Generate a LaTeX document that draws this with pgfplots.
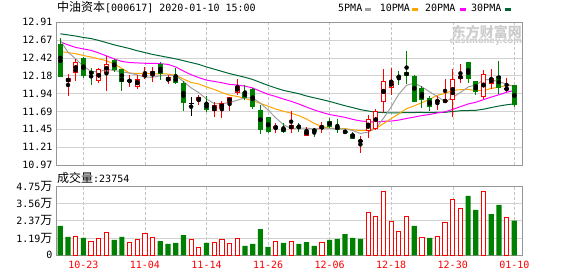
\documentclass[border=0pt]{standalone}
\usepackage{pgfplots}
\pgfplotsset{compat=1.18}
\usepackage{pgfplotstable}
\usepackage{fontspec}
\setmainfont{DejaVu Sans Mono}
\newfontfamily\cjk{Noto Sans CJK SC}
\newfontfamily\wmfont{DejaVu Sans}
\definecolor{kred}{RGB}{255,0,0}
\definecolor{kgreen}{RGB}{0,128,0}
\definecolor{maA}{RGB}{160,160,160}
\definecolor{maB}{RGB}{255,165,0}
\definecolor{maC}{RGB}{255,0,255}
\definecolor{maD}{RGB}{0,102,51}
\definecolor{framec}{RGB}{150,150,150}
\definecolor{gridc}{RGB}{210,210,210}
\definecolor{vgridc}{RGB}{195,195,195}
\definecolor{wmc}{RGB}{205,205,205}
\newcommand\wan{{\cjk\fontsize{12}{14}\selectfont 万}}

% candles: x open high low close
\pgfplotstableread{
x o h l c
1 12.100 12.205 11.906 12.146
2 12.223 12.403 12.109 12.363
5 12.114 12.290 12.087 12.259
6 12.222 12.449 11.978 12.340
9 12.100 12.190 12.033 12.123
10 12.033 12.190 12.000 12.132
11 12.170 12.300 12.130 12.200
12 12.191 12.295 12.100 12.245
14 12.114 12.190 12.069 12.159
18 11.843 11.920 11.784 11.888
20 11.716 11.829 11.626 11.784
21 11.739 11.843 11.612 11.806
22 11.820 11.890 11.707 11.888
23 11.951 12.132 11.920 12.040
28 11.463 11.535 11.409 11.499
30 11.463 11.707 11.409 11.508
32 11.377 11.490 11.377 11.431
34 11.463 11.558 11.409 11.499
39 11.287 11.363 11.137 11.300
40 11.440 11.648 11.332 11.590
41 11.470 11.730 11.440 11.700
42 11.829 12.268 11.680 12.100
43 12.019 12.281 11.920 12.109
49 11.829 11.900 11.720 11.843
50 11.830 12.130 11.820 11.847
51 11.860 12.268 11.626 12.132
52 12.146 12.340 12.087 12.177
55 11.900 12.260 11.860 12.204
56 12.080 12.270 12.000 12.140
58 11.996 12.146 11.965 12.010
}\redK
\pgfplotstableread{
x o h l c
0 12.598 12.690 12.159 12.168
3 12.420 12.430 12.146 12.190
4 12.236 12.285 12.060 12.205
7 12.394 12.410 12.236 12.272
8 12.268 12.275 11.978 12.100
13 12.336 12.363 12.123 12.213
15 12.168 12.280 12.069 12.087
16 12.078 12.114 11.707 11.815
19 11.806 11.910 11.693 11.725
24 11.951 12.055 11.852 11.888
25 12.000 12.010 11.725 11.770
26 11.716 11.784 11.386 11.458
27 11.612 11.612 11.409 11.431
29 11.463 11.535 11.400 11.431
31 11.499 11.544 11.422 11.485
33 11.450 11.470 11.350 11.430
35 11.558 11.603 11.467 11.499
36 11.499 11.590 11.409 11.445
37 11.422 11.454 11.386 11.413
38 11.386 11.422 11.323 11.332
44 12.177 12.240 12.055 12.159
45 12.223 12.520 12.064 12.190
46 12.177 12.190 11.830 11.838
47 12.010 12.040 11.750 11.852
48 11.874 11.906 11.700 11.770
53 12.363 12.363 12.078 12.146
54 12.100 12.109 11.915 11.974
57 12.168 12.385 11.930 12.020
59 12.046 12.060 11.760 11.784
}\greenK
\pgfplotstableread{
x o h l c
17 11.806 11.888 11.635 11.806
}\blackK

% moving averages: x ma5 ma10 ma20 ma30
\pgfplotstableread{
x a b d e
0 12.660 12.510 12.640 12.750
1 12.500 12.495 12.600 12.735
2 12.410 12.480 12.565 12.720
3 12.310 12.455 12.545 12.700
4 12.240 12.435 12.525 12.685
5 12.232 12.410 12.490 12.660
6 12.270 12.385 12.450 12.630
7 12.252 12.340 12.410 12.600
8 12.234 12.280 12.375 12.575
9 12.218 12.216 12.360 12.550
10 12.192 12.212 12.355 12.520
11 12.164 12.216 12.350 12.495
12 12.159 12.206 12.350 12.470
13 12.181 12.208 12.345 12.450
14 12.189 12.204 12.335 12.430
15 12.181 12.187 12.300 12.410
16 12.104 12.136 12.245 12.385
17 12.016 12.090 12.195 12.360
18 11.952 12.069 12.155 12.335
19 11.865 12.029 12.122 12.300
20 11.804 11.995 12.104 12.270
21 11.802 11.953 12.086 12.240
22 11.818 11.917 12.063 12.210
23 11.849 11.900 12.055 12.185
24 11.881 11.873 12.040 12.160
25 11.878 11.841 12.015 12.130
26 11.809 11.806 11.971 12.090
27 11.717 11.768 11.929 12.050
28 11.609 11.729 11.899 12.015
29 11.518 11.700 11.865 11.982
30 11.465 11.672 11.834 11.960
31 11.471 11.640 11.797 11.937
32 11.471 11.594 11.756 11.906
33 11.457 11.533 11.717 11.881
34 11.471 11.495 11.684 11.858
35 11.469 11.467 11.654 11.832
36 11.461 11.466 11.636 11.803
37 11.457 11.464 11.616 11.774
38 11.438 11.448 11.589 11.749
39 11.398 11.435 11.568 11.721
40 11.416 11.443 11.558 11.703
41 11.467 11.464 11.552 11.686
42 11.604 11.531 11.563 11.681
43 11.760 11.599 11.566 11.677
44 11.932 11.665 11.580 11.678
45 12.052 11.734 11.601 11.681
46 12.079 11.773 11.620 11.682
47 12.030 11.817 11.641 11.683
48 11.962 11.861 11.655 11.679
49 11.899 11.916 11.676 11.684
50 11.830 11.941 11.692 11.685
51 11.889 11.984 11.724 11.696
52 11.954 11.992 11.762 11.706
53 12.029 11.996 11.798 11.709
54 12.055 11.977 11.821 11.712
55 12.127 11.979 11.857 11.727
56 12.128 12.009 11.891 11.749
57 12.097 12.025 11.923 11.770
58 12.070 12.050 11.957 11.787
59 12.032 12.044 11.981 11.799
}\maT

% volume (hands)
\pgfplotstableread{
x v
2 13000
4 9800
5 11600
6 15800
9 8900
10 10500
11 15100
12 12300
17 11000
18 5500
20 8900
21 10500
22 8200
23 11600
28 9600
30 9600
34 8900
40 29500
41 26700
42 43900
43 23300
44 16400
45 26700
47 12300
49 13000
50 22600
51 38400
52 32200
55 43900
58 26000
}\redV
\pgfplotstableread{
x v
0 20100
1 12600
3 11900
7 10500
8 12600
13 9800
14 7800
15 8500
16 13900
19 8500
24 6400
25 7800
26 18000
27 5700
29 8500
31 7800
32 9100
33 6400
35 10500
36 11200
37 14600
38 11900
39 11200
46 20100
48 11900
53 40700
54 31100
56 28300
57 34500
59 23754
}\greenV

\pgfplotsset{
  kbase/.style={
    scale only axis, width=466pt, anchor=south west,
    xmin=-0.56, xmax=60,
    xtick={3,11,...,59},
    major tick length=0pt,
    axis line style={framec},
    xmajorgrids, ymajorgrids,
    y grid style={gridc},
    x grid style={vgridc, dash pattern=on 3pt off 2pt},
    tick label style={font=\fontsize{10}{12}\selectfont, text=black},
    scaled ticks=false,
  },
  wick/.style={only marks, mark=none, forget plot,
    error bars/.cd, y dir=both, y explicit, error mark=none,
    error bar style={draw=#1, line width=1pt, solid}},
  body/.style={only marks, mark=none, forget plot,
    error bars/.cd, y dir=both, y explicit, error mark=none,
    error bar style={draw=#1, line width=5pt, solid}},
  inner/.style={only marks, mark=none, forget plot,
    error bars/.cd, y dir=both, y explicit, error mark=none,
    error bar style={draw=white, line width=3pt, solid}},
}

\begin{document}
\begin{tikzpicture}
\path[use as bounding box] (0,0) rectangle (578pt,276pt);

% watermark
\node[anchor=north east, inner sep=0, text=wmc, font=\cjk\fontsize{14}{16}\selectfont\bfseries] at (522pt,251pt) {东方财富网};
\node[anchor=north east, inner sep=0, text=wmc, font=\wmfont\fontsize{8.2}{9}\selectfont\bfseries] at (522pt,238pt) {eastmoney.com};

% price panel
\begin{axis}[kbase, at={(56pt,111pt)}, height=143pt,
  ymin=10.97, ymax=12.91,
  ytick={10.97,11.2125,11.455,11.6975,11.94,12.1825,12.425,12.6675,12.91},
  yticklabels={10.97,11.21,11.45,11.69,11.94,12.18,12.42,12.67,12.91},
  xticklabels={},
]
% moving averages
\addplot[maD, line width=1pt, mark=none] table[x=x, y=e] {\maT};
\addplot[maC, line width=1pt, mark=none] table[x=x, y=d] {\maT};
\addplot[maB, line width=1pt, mark=none] table[x=x, y=b] {\maT};
\addplot[maA, line width=1pt, mark=none] table[x=x, y=a] {\maT};
% wicks
\addplot[wick=kgreen] table[x=x, y expr={(\thisrow{h}+\thisrow{l})/2}, y error expr={(\thisrow{h}-\thisrow{l})/2}] {\greenK};
\addplot[wick=kred] table[x=x, y expr={(\thisrow{h}+\thisrow{l})/2}, y error expr={(\thisrow{h}-\thisrow{l})/2}] {\redK};
\addplot[wick=black] table[x=x, y expr={(\thisrow{h}+\thisrow{l})/2}, y error expr={(\thisrow{h}-\thisrow{l})/2}] {\blackK};
% bodies
\addplot[body=kgreen] table[x=x, y expr={(\thisrow{o}+\thisrow{c})/2}, y error expr={abs(\thisrow{o}-\thisrow{c})/2+0.0068}] {\greenK};
\addplot[body=kred] table[x=x, y expr={(\thisrow{o}+\thisrow{c})/2}, y error expr={abs(\thisrow{o}-\thisrow{c})/2+0.0068}] {\redK};
\addplot[inner] table[x=x, y expr={(\thisrow{o}+\thisrow{c})/2}, y error expr={max(abs(\thisrow{o}-\thisrow{c})/2-0.0068,0)}] {\redK};
\addplot[only marks, mark=-, mark size=2.5pt, mark options={black, line width=1pt}] table[x=x, y=c] {\blackK};
\end{axis}

% volume panel
\begin{axis}[kbase, at={(56pt,20.7pt)}, height=69.3pt,
  ymin=0, ymax=47500,
  ytick={0,11875,23750,35625,47500},
  yticklabels={0,{1.19\wan},{2.37\wan},{3.56\wan},{4.75\wan}},
  xticklabels={10-23,11-04,11-14,11-26,12-06,12-18,12-30,01-10},
  xticklabel style={text=kred, yshift=-2pt},
]
\addplot[ybar, bar width=4.2pt, bar shift=0pt, draw=kred, fill=white, line width=1pt] table[x=x, y=v] {\redV};
\addplot[ybar, bar width=5.2pt, bar shift=0pt, draw=none, fill=kgreen] table[x=x, y=v] {\greenV};
\end{axis}

% title
\node[anchor=base west, inner sep=0] at (57pt,264pt) {{\cjk\fontsize{12}{14}\selectfont 中油资本}\fontsize{10}{12}\selectfont[000617] 2020-01-10 15:00};
% legend
\node[anchor=base west, inner sep=0, font=\fontsize{10}{12}\selectfont] at (338pt,264pt) {5PMA};
\fill[maA] (364.7pt,265.3pt) rectangle (370.7pt,267.7pt);
\node[anchor=base west, inner sep=0, font=\fontsize{10}{12}\selectfont] at (379.7pt,264pt) {10PMA};
\fill[maB] (412pt,265.3pt) rectangle (418pt,267.7pt);
\node[anchor=base west, inner sep=0, font=\fontsize{10}{12}\selectfont] at (425pt,264pt) {20PMA};
\fill[maC] (459.7pt,265.3pt) rectangle (465.5pt,267.7pt);
\node[anchor=base west, inner sep=0, font=\fontsize{10}{12}\selectfont] at (471pt,264pt) {30PMA};
\fill[maD] (505pt,265.3pt) rectangle (510.7pt,267.7pt);
% volume title
\node[anchor=base west, inner sep=0] at (57pt,94pt) {{\cjk\fontsize{12}{14}\selectfont 成交量}\fontsize{10}{12}\selectfont:23754};
\end{tikzpicture}
\end{document}
